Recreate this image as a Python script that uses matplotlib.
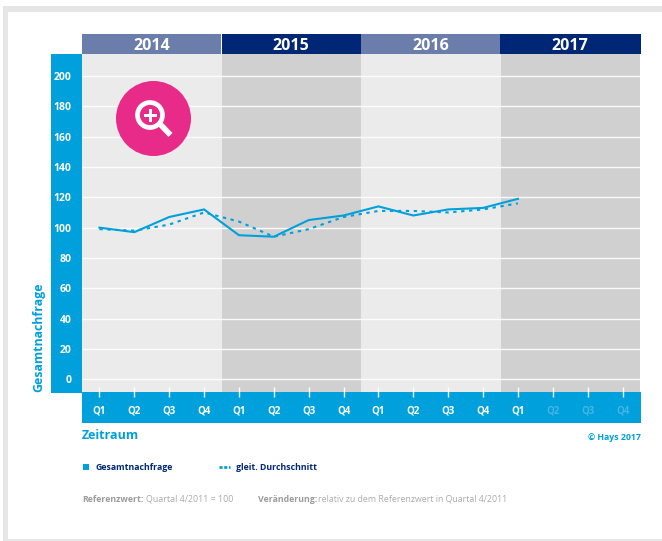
import matplotlib
matplotlib.use("Agg")
import matplotlib.pyplot as plt
from matplotlib.patches import Rectangle, Circle, Polygon
from matplotlib.lines import Line2D

W, H = 662, 541
quarters = ["Q1", "Q2", "Q3", "Q4"] * 4
years = ["2014", "2015", "2016", "2017"]
gesamt = [100, 97, 107, 112, 95, 94, 105, 108, 114, 108, 112, 113, 119]
gleit = [99, 98, 102, 110, 104, 94, 99, 107, 111, 111, 110, 112, 116]
yticks = list(range(0, 201, 20))

BLUE = "#00a0dc"
NAVY = "#002776"
SLATE = "#6a7dab"
LIGHT = "#ebebeb"
DARK = "#d0d0d0"
FADED = "#45b5e2"
GREY = "#9c9c9c"
PINK = "#e82a89"
plt.rcParams["font.family"] = ["Open Sans", "DejaVu Sans"]

fig = plt.figure(figsize=(W / 100, H / 100), dpi=100, facecolor="white")

def fx(x): return x / W
def fy(y): return 1 - y / H
def rect(x0, y0, x1, y1, c, z=-1):
    fig.add_artist(Rectangle((fx(x0), fy(y1)), (x1 - x0) / W, (y1 - y0) / H,
                             transform=fig.transFigure, fc=c, ec="none", zorder=z))

# page frame
rect(3, 6, 662, 12, "#e6e6e6")
rect(3, 6, 8, 541, "#e6e6e6")
rect(3, 539, 662, 541, "#e6e6e6")

# bands round the plot
rect(51, 54, 82, 392.5, BLUE)
rect(82, 392, 641, 423, BLUE)

ax = fig.add_axes([fx(82), fy(392), 558 / W, 338 / H])
ax.set_xlim(-0.5, 15.5)
ax.set_ylim(-8.4, 214.5)
for i, yr in enumerate(years):
    x0, x1 = i * 4 - 0.5, i * 4 + 3.5
    ax.axvspan(x0, x1, color=LIGHT if i % 2 == 0 else DARK, lw=0, zorder=0)
    ax.text((x0 + x1) / 2, 1.0235, yr, transform=ax.get_xaxis_transform(),
            ha="center", va="center", color="white", fontsize=11.5, fontweight="bold", zorder=5)
    fig.add_artist(Rectangle((fx(82 + i * 139.5), fy(54)), (139.5 + (1 if i == 3 else 0)) / W, 20 / H,
                             transform=fig.transFigure,
                             fc=SLATE if i % 2 == 0 else NAVY, ec="none", zorder=-1))
ax.set_yticks(yticks)
ax.set_yticklabels([str(v) for v in yticks], color="white", fontsize=7.5, fontweight="bold")
ax.set_xticks(range(len(quarters)))
ax.set_xticklabels(quarters, fontsize=7, fontweight="bold", color="white")
ax.grid(axis="y", color="white", lw=1, alpha=0.9, zorder=1)
ax.set_axisbelow(True)
ax.tick_params(axis="y", length=0, pad=7.5)
ax.tick_params(axis="x", direction="inout", length=7, width=1, color="white", pad=6)
for i, (tick, lab) in enumerate(zip(ax.xaxis.get_major_ticks(), ax.get_xticklabels())):
    if i > len(gesamt) - 1:
        lab.set_color(FADED)
        tick.tick1line.set_color(FADED)
for s in ax.spines.values():
    s.set_visible(False)

ax.plot(range(len(gesamt)), gesamt, color=BLUE, lw=1.5, zorder=3, solid_joinstyle="miter")
ax.plot(range(len(gleit)), gleit, color=BLUE, lw=1.5, ls=(0, (1.6, 2.2)), zorder=3)

# magnifier icon
ov = fig.add_axes([0, 0, 1, 1], facecolor="none")
ov.set_xlim(0, W)
ov.set_ylim(H, 0)
ov.axis("off")
ov.add_patch(Circle((153.5, 118.5), 37.5, fc=PINK, ec="none"))
ov.add_patch(Polygon([(158, 126), (162, 122), (172.5, 133), (168.5, 137)], fc="white", ec="none"))
ov.add_patch(Circle((150, 115), 12.5, fc="none", ec="white", lw=3.4))
ov.add_patch(Rectangle((143.5, 113.7), 13, 3, fc="white", ec="none"))
ov.add_patch(Rectangle((148.5, 108.7), 3, 13, fc="white", ec="none"))

# texts
ov.text(38.5, 392, "Gesamtnachfrage", rotation=90, ha="center", va="bottom", color=BLUE,
        fontsize=8.95, fontweight="bold")
ov.text(81.5, 435.5, "Zeitraum", ha="left", va="center", color=BLUE, fontsize=9, fontweight="bold")
ov.text(641, 437, "© Hays 2017", ha="right", va="center", color=BLUE, fontsize=6.3, fontweight="bold")

ov.add_patch(Rectangle((82.5, 464), 6, 5.5, fc=BLUE, ec="none"))
ov.text(95, 467, "Gesamtnachfrage", ha="left", va="center", color=NAVY, fontsize=6.3, fontweight="bold")
ov.add_line(Line2D([219, 230], [467, 467], color=BLUE, lw=2, ls=(0, (1.1, 0.6))))
ov.text(236, 467, "gleit. Durchschnitt", ha="left", va="center", color=NAVY, fontsize=6.3, fontweight="bold")

ov.text(82, 499, "Referenzwert:", ha="left", va="center", color=GREY, fontsize=6.3, fontweight="bold")
ov.text(146.5, 499, "Quartal 4/2011 = 100", ha="left", va="center", color="#aaaaaa", fontsize=6.4)
ov.text(258, 499, "Veränderung:", ha="left", va="center", color=GREY, fontsize=6.3, fontweight="bold")
ov.text(318.5, 499, "relativ zu dem Referenzwert in Quartal 4/2011", ha="left", va="center", color="#aaaaaa", fontsize=6.35)

fig.savefig("out.png", dpi=100, facecolor="white")
